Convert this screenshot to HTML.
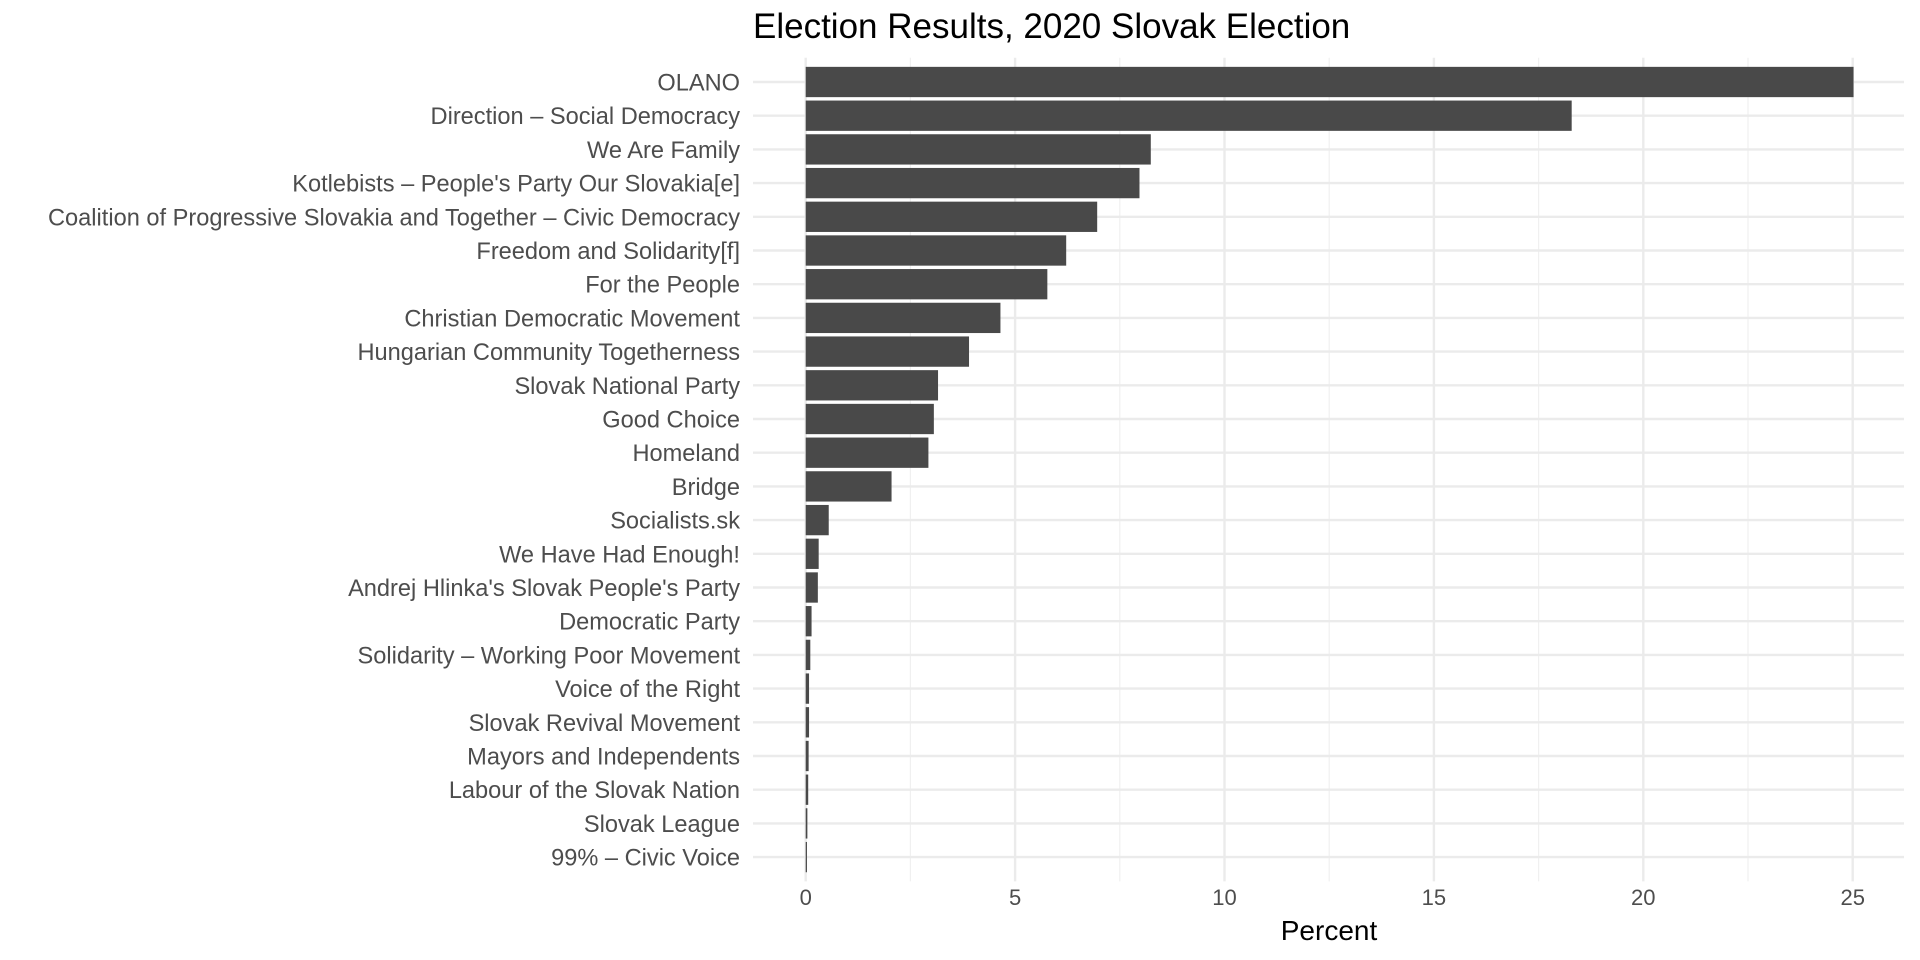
<!DOCTYPE html>
<html><head><meta charset="utf-8"><style>
html,body{margin:0;padding:0;background:#fff;}
svg{display:block;font-family:"Liberation Sans",sans-serif;}
</style></head><body>
<svg id="chart" width="1920" height="960" viewBox="0 0 1920 960">
<text x="753" y="38" font-size="35" fill="#000">Election Results, 2020 Slovak Election</text>
<g id="grid"></g><g id="bars"></g><g id="ylabels"></g><g id="xlabels"></g>
<text x="1329" y="940" font-size="28" text-anchor="middle" fill="#000">Percent</text>
</svg>
<script>
const categories=["OLANO","Direction – Social Democracy","We Are Family","Kotlebists – People's Party Our Slovakia[e]","Coalition of Progressive Slovakia and Together – Civic Democracy","Freedom and Solidarity[f]","For the People","Christian Democratic Movement","Hungarian Community Togetherness","Slovak National Party","Good Choice","Homeland","Bridge","Socialists.sk","We Have Had Enough!","Andrej Hlinka's Slovak People's Party","Democratic Party","Solidarity – Working Poor Movement","Voice of the Right","Slovak Revival Movement","Mayors and Independents","Labour of the Slovak Nation","Slovak League","99% – Civic Voice"];
const values=[25.02,18.29,8.24,7.97,6.96,6.22,5.77,4.65,3.90,3.16,3.06,2.93,2.05,0.55,0.31,0.29,0.14,0.11,0.08,0.08,0.07,0.06,0.04,0.03];
const xTicks=[0,5,10,15,20,25];
const xMinor=[2.5,7.5,12.5,17.5,22.5];
const NS="http://www.w3.org/2000/svg";
const x0=805.7, ppu=41.88, y0=82, step=33.7, bh=30.3, leftX=753, rightX=1904;
const X=v=>x0+v*ppu, Y=i=>y0+i*step;
function mk(tag,attrs,parent){const e=document.createElementNS(NS,tag);for(const k in attrs)e.setAttribute(k,attrs[k]);document.getElementById(parent).appendChild(e);return e;}
const panelTop=Y(0)-step*0.6-4, panelBot=Y(categories.length-1)+step*0.6+4;
xMinor.forEach(v=>{const l=mk('line',{x1:X(v),x2:X(v),y1:panelTop,y2:panelBot,stroke:'#f0f0f0','stroke-width':1.2},'grid');

});
xTicks.forEach(v=>{const l=mk('line',{x1:X(v),x2:X(v),y1:panelTop,y2:panelBot,stroke:'#ebebeb','stroke-width':2.4},'grid');


const t=mk('text',{x:X(v),y:905,'font-size':22,'text-anchor':'middle',fill:'#4d4d4d'},'xlabels');t.textContent=v;

});
categories.forEach((c,i)=>{const l=mk('line',{x1:leftX,x2:rightX,y1:Y(i),y2:Y(i),stroke:'#ebebeb','stroke-width':2.4},'grid');


const r=mk('rect',{x:X(0),y:Y(i)-bh/2,width:Math.max(values[i]*ppu,0.8),height:bh,fill:'#494949'},'bars');


const t=mk('text',{x:740,y:Y(i)+8.5,'font-size':23.6,'text-anchor':'end',fill:'#4d4d4d'},'ylabels');t.textContent=c;

});
</script>
</body></html>
